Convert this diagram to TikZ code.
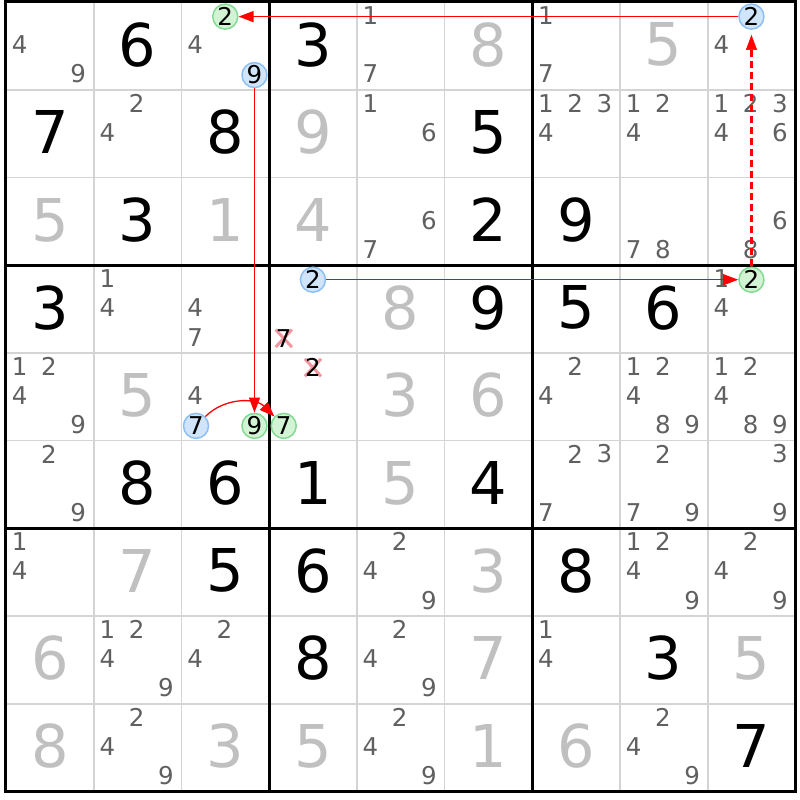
\documentclass[tikz,border=0pt]{standalone}
\usepackage{fontspec}
\setmainfont{DejaVu Sans}
\usetikzlibrary{arrows.meta,decorations.markings}
\definecolor{solvedgrey}{RGB}{192,192,192}
\definecolor{candgrey}{RGB}{96,96,96}
\definecolor{thingrey}{RGB}{212,212,212}
\definecolor{bluefill}{RGB}{208,228,250}
\definecolor{blueline}{RGB}{140,192,244}
\definecolor{greenfill}{RGB}{210,244,212}
\definecolor{greenline}{RGB}{132,218,148}
\definecolor{crosspink}{RGB}{242,150,160}
\definecolor{linkred}{RGB}{255,0,0}

\begin{document}
\begin{tikzpicture}[x=87.7pt,y=-87.7pt,
    given/.style={inner sep=0pt,font=\fontsize{59}{59}\selectfont},
    solved/.style={given,text=solvedgrey},
    cand/.style={inner sep=0pt,text=candgrey,font=\fontsize{24.5}{24.5}\selectfont},
    blue node/.style={circle,draw=blueline,fill=bluefill,line width=1.5pt,minimum size=25pt,inner sep=0pt,font=\fontsize{24.5}{24.5}\selectfont},
    green node/.style={blue node,draw=greenline,fill=greenfill},
    struck/.style={crosspink,line width=3pt},
    link/.style={-{Triangle[length=15pt,width=11pt]},color=linkred,line width=1.3pt},
    weak link/.style={decorate,decoration={markings,
        mark=between positions 0 and 0.9 step 11pt with {\fill[linkred] (0,-1.1pt) rectangle (7pt,1.1pt);},
        mark=at position -5pt with {\arrow[linkred]{Triangle[length=15pt,width=11pt]}}}}]
    \useasboundingbox (-0.0684,-0.0228) rectangle (9.0536,9.0992);
    \fill[white] (-0.0684,-0.0228) rectangle (9.0536,9.0992);
%Grid
    \foreach \i in {1,2,4,5,7,8} {
        \draw[thingrey,line width=1.8pt] (\i,0) -- (\i,9);
        \draw[thingrey,line width=1.8pt] (0,\i) -- (9,\i);
    }
    \foreach \i in {3,6} {
        \draw[line width=3pt] (\i,0) -- (\i,9);
        \draw[line width=3pt] (0,\i) -- (9,\i);
    }
    \draw[line width=3pt] (0,0) rectangle (9,9);
%Givens and solved cells
    \foreach \r/\c/\d in {1/2/6,1/4/3,2/1/7,2/3/8,2/6/5,3/2/3,3/6/2,3/7/9,4/1/3,4/6/9,4/7/5,4/8/6,
                          6/2/8,6/3/6,6/4/1,6/6/4,7/3/5,7/4/6,7/7/8,8/4/8,8/8/3,9/9/7}
        \node[given] (g\r\c) at (\c-0.5,\r-0.515) {\d};
    \foreach \r/\c/\d in {1/6/8,1/8/5,2/4/9,3/1/5,3/3/1,3/4/4,4/5/8,5/2/5,5/5/3,5/6/6,6/5/5,
                          7/2/7,7/6/3,8/1/6,8/6/7,8/9/5,9/1/8,9/3/3,9/4/5,9/6/1,9/7/6}
        \node[solved] (s\r\c) at (\c-0.5,\r-0.515) {\d};
%Candidates
    \foreach \r/\c/\ds in {1/1/{4,9},1/3/{4},1/5/{1,7},1/7/{1,7},1/9/{4},
                           2/2/{2,4},2/5/{1,6},2/7/{1,2,3,4},2/8/{1,2,4},2/9/{1,2,3,4,6},
                           3/5/{6,7},3/8/{7,8},3/9/{6,8},4/2/{1,4},4/3/{4,7},4/9/{1,4},
                           5/1/{1,2,4,9},5/3/{4},5/7/{2,4},5/8/{1,2,4,8,9},5/9/{1,2,4,8,9},
                           6/1/{2,9},6/7/{2,3,7},6/8/{2,7,9},6/9/{3,9},
                           7/1/{1,4},7/5/{2,4,9},7/8/{1,2,4,9},7/9/{2,4,9},
                           8/2/{1,2,4,9},8/3/{2,4},8/5/{2,4,9},8/7/{1,4},
                           9/2/{2,4,9},9/5/{2,4,9},9/8/{2,4,9}}
        \foreach \d in \ds
            \node[cand] (n\r\c\d) at ({\c-1+(mod(\d-1,3)+0.5)/3-0.01},{\r-1+(floor((\d-1)/3)+0.5)/3-0.012}) {\d};
%Eliminated candidates
    \draw[struck] (3.075,3.735) -- (3.26,3.935) (3.075,3.935) -- (3.26,3.735);
    \draw[struck] (3.4075,4.0683) -- (3.5925,4.2683) (3.4075,4.2683) -- (3.5925,4.0683);
    \node[cand,text=black] (x447) at (3.1667,3.8333) {7};
    \node[cand,text=black] (x542) at (3.5,4.1667) {2};
%Chain nodes
    \node[blue node] (B19) at (8.5,0.1667) {2};
    \node[green node] (G13) at (2.5,0.1667) {2};
    \node[blue node] (B13) at (2.8333,0.8333) {9};
    \node[green node] (G53) at (2.8333,4.8333) {9};
    \node[blue node] (B53) at (2.1667,4.8333) {7};
    \node[green node] (G54) at (3.1667,4.8333) {7};
    \node[blue node] (B44) at (3.5,3.1667) {2};
    \node[green node] (G49) at (8.5,3.1667) {2};

    \draw[link] (B19) -- (G13);
    \draw[link] (B13) -- (G53);
    \draw[link] (B53) to[bend left=45] (G54);
    \draw[link] (B44) -- (G49);
    \path[weak link] (G49) -- (B19);
\end{tikzpicture}
\end{document}
